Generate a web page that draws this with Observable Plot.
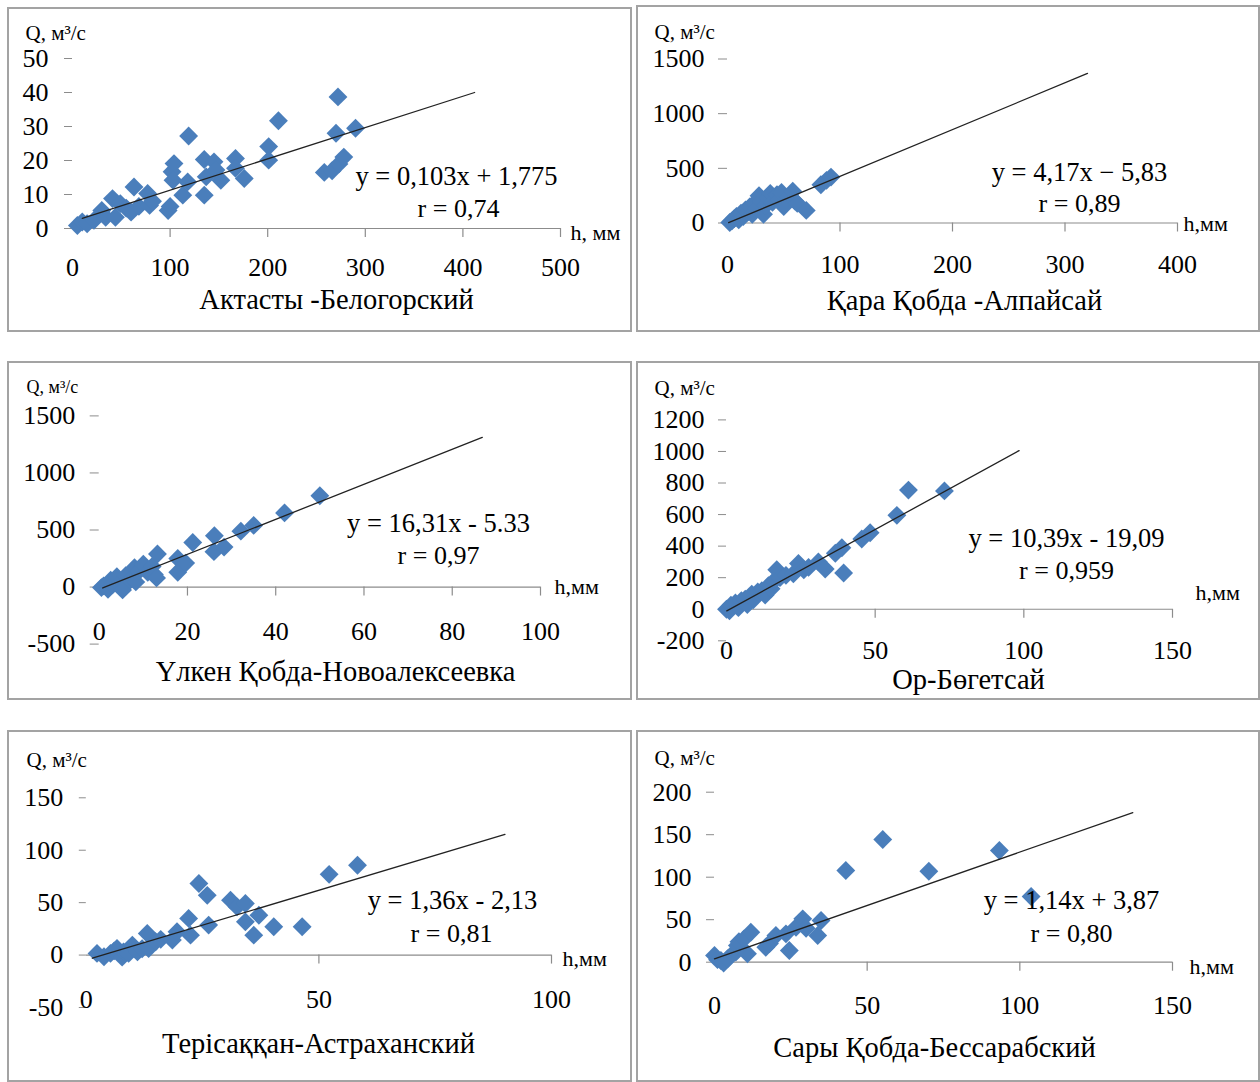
<!DOCTYPE html>
<html><head><meta charset="utf-8">
<script src="https://cdn.jsdelivr.net/npm/d3@7"></script>
<script src="https://cdn.jsdelivr.net/npm/@observablehq/plot@0.6"></script>
<style>
html,body{margin:0;padding:0;background:#fff;}
#page{position:relative;width:1260px;height:1082px;overflow:hidden;background:#fff;}
.frame{position:absolute;box-sizing:border-box;border:2px solid #a3a3a3;}
.plot{position:absolute;}
.plot text{font-family:"Liberation Serif","Times New Roman",serif !important;font-variant-numeric:normal !important;}
</style></head><body><div id="page"></div>
<script>
// ---------- data ----------
const stationNames = ["Актасты -Белогорский","Қара Қобда -Алпайсай","Үлкен Қобда-Новоалексеевка","Ор-Бөгетсай","Терісаққан-Астраханский","Сары Қобда-Бессарабский"];
const equations = ["y = 0,103x + 1,775","y = 4,17x − 5,83","y = 16,31x - 5.33","y = 10,39x - 19,09","y = 1,36x - 2,13","y = 1,14x + 3,87"];
const correlations = ["r = 0,74","r = 0,89","r = 0,97","r = 0,959","r = 0,81","r = 0,80"];
const xLabels = ["h, мм","h,мм","h,мм","h,мм","h,мм","h,мм"];
const yLabel = "Q, м³/с";

const xTicks1 = [0,100,200,300,400,500];
const yTicks1 = [0,10,20,30,40,50];
const xTicks2 = [0,100,200,300,400];
const yTicks2 = [0,500,1000,1500];
const xTicks3 = [0,20,40,60,80,100];
const yTicks3 = [-500,0,500,1000,1500];
const xTicks4 = [0,50,100,150];
const yTicks4 = [-200,0,200,400,600,800,1000,1200];
const xTicks5 = [0,50,100];
const yTicks5 = [-50,0,50,100,150];
const xTicks6 = [0,50,100,150];
const yTicks6 = [0,50,100,150,200];

const points1 = [[5,0.9],[10,1.9],[15,1.4],[22,2.4],[30,5.3],[34,3.3],[41,8.8],[44,3.3],[49,7.3],[55,6],[60,4.8],[63,12.2],[68,6.5],[77,10.3],[79,6.8],[82,8],[98,5.3],[100,6.5],[102,16.7],[104,19.1],[103,14.2],[113,9.8],[118,13.7],[119,27.2],[135,20.3],[135,9.8],[137,15.2],[145,19.6],[147,17.2],[152,14.2],[167,20.6],[167,17.7],[176,14.7],[201,24.1],[201,20.1],[211,31.7],[258,16.5],[266,17],[273,19],[278,21],[270,28],[272,38.7],[290,29.5]];
const points2 = [[2,5],[4,20],[6,40],[8,60],[10,30],[12,90],[14,60],[16,120],[18,100],[20,150],[22,80],[24,180],[26,130],[28,250],[30,200],[32,80],[34,160],[36,230],[38,270],[40,190],[44,260],[46,210],[48,280],[50,150],[54,240],[58,290],[60,200],[62,180],[70,115],[83,350],[88,390],[92,420]];
const points3 = [[0.5,-5],[1,10],[2,-20],[2.6,60],[3,20],[4,90],[4.5,30],[5.3,-25],[6,100],[7,60],[8,170],[8.3,45],[9,140],[10,200],[11,130],[12,180],[12.5,110],[13.2,290],[13,80],[17.8,250],[17.8,130],[19.6,210],[21.2,390],[26.1,450],[26,310],[28.3,350],[32.1,490],[35,540],[42,650],[50,800]];
const points4 = [[0,0],[1,-10],[1.5,25],[3,40],[4,10],[5,55],[6.3,64],[7,30],[8.5,96],[9,60],[10.5,110],[11.9,117],[13,90],[14.1,149],[15,130],[16,180],[16.9,250],[18,200],[20,215],[22.5,225],[24.2,290],[26,250],[27.6,265],[30.9,300],[33.2,255],[36.6,355],[38.8,390],[39.4,230],[45.5,445],[48.3,485],[57.3,595],[61.2,755],[73.3,750]];
const points5 = [[2.3,1.6],[3.8,-1.6],[5.2,1.6],[6,4],[6.6,6.3],[7.7,-2],[8,3],[9.1,1.6],[9.9,9.5],[11,3],[12,6],[13.1,20.6],[13.4,6.3],[14.9,12.7],[16,15],[18.5,14.3],[19.5,22.2],[22,35],[22.4,19],[24.2,68.3],[26,57],[26.3,28.6],[31,52.4],[32.4,46],[34.2,49.2],[34.2,31.7],[36,19],[37.1,38],[40.3,27],[46.4,27],[52.2,77],[58.3,85.7]];
const points6 = [[0,7.9],[1,3],[2.1,2],[3,-1],[4.3,4],[6,10],[7,11.8],[7.5,19.6],[8,24],[9.7,27.5],[10.8,9.9],[11.9,35.3],[16.8,17.6],[18,22],[20.1,31.4],[23.4,33.4],[24.5,13.8],[26.7,41],[28.9,51],[30,40],[33.8,31.4],[34.9,49],[43,107.9],[55.1,144.4],[70.2,107],[93.3,131.4],[103.7,77.3]];

const trend1 = [[10,3],[412,40]];
const trend2 = [[1,3],[320,1368]];
const trend3 = [[0.8,-8],[86.8,1312]];
const trend4 = [[0.1,-10],[98.4,1005]];
const trend5 = [[1.3,-3],[90,115]];
const trend6 = [[0,4],[137,176]];

// ---------- layout (page pixels) ----------
const FONT = "Liberation Serif, Times New Roman, serif";
const BLUE = "#4A7EBB";
const AXIS = "#8c8c8c";
const panels = [
  {box:[7,7,625,325], x:[72,560], y:[228,58], xt:xTicks1, yt:yTicks1, pts:points1, tr:trend1, yLine:false, tick:8, pad:16,
   q:[25,33,21], h:[570,232], eq:[456,176], r:[458,208], title:[336,299], xlabDy:39},
  {box:[636,5,624,327], x:[727,1177], y:[222.5,58.5], xt:xTicks2, yt:yTicks2, pts:points2, tr:trend2, yLine:false, tick:9, pad:14,
   q:[654,32,21], h:[1183,223], eq:[1079,172], r:[1079,203], title:[964,300], xlabDy:42},
  {box:[7,361,625,339], x:[98.7,540], y:[643.6,415.4], xt:xTicks3, yt:yTicks3, pts:points3, tr:trend3, yLine:true, tick:9, pad:15,
   q:[26,387,18], h:[554,586], eq:[438,523], r:[438,555], title:[335,671], xlabDy:45},
  {box:[636,361,624,339], x:[726,1172], y:[640.3,419.4], xt:xTicks4, yt:yTicks4, pts:points4, tr:trend4, yLine:false, tick:8, pad:14,
   q:[654,388,21], h:[1195,592], eq:[1066,538], r:[1066,570], title:[968,679], xlabDy:41},
  {box:[7,730,625,352], x:[85.8,551], y:[1007,797.3], xt:xTicks5, yt:yTicks5, pts:points5, tr:trend5, yLine:true, tick:7, pad:16,
   q:[26,760,21], h:[562,958], eq:[452,900], r:[451,933], title:[318,1043], xlabDy:45},
  {box:[636,730,624,352], x:[714,1172], y:[961.7,791.7], xt:xTicks6, yt:yTicks6, pts:points6, tr:trend6, yLine:true, tick:8, pad:15,
   q:[654,758,21], h:[1189,966], eq:[1071,900], r:[1071,933], title:[934,1047], xlabDy:43}
];

const page = document.getElementById("page");
panels.forEach((P, i) => {
  const [ox, oy, W, H] = P.box;
  const frame = document.createElement("div");
  frame.className = "frame";
  Object.assign(frame.style, {left: ox+"px", top: oy+"px", width: W+"px", height: H+"px"});
  page.appendChild(frame);

  const mL = P.x[0]-ox, mR = W-(P.x[1]-ox), mT = P.y[1]-oy, mB = H-(P.y[0]-oy);
  const at = (px, py) => ({frameAnchor: "top-left", dx: px-ox-mL, dy: py-oy-mT});
  const xd = [P.xt[0], P.xt[P.xt.length-1]];
  const yd = [P.yt[0], P.yt[P.yt.length-1]];

  const svg = Plot.plot({
    width: W, height: H,
    marginLeft: mL, marginRight: mR, marginTop: mT, marginBottom: mB,
    x: {domain: xd, axis: null}, y: {domain: yd},
    style: {fontFamily: FONT, fontSize: "26px", color: "#000", background: "transparent", overflow: "visible"},
    marks: [
      Plot.axisY({ticks: P.yt, tickSize: P.tick, tickPadding: P.pad, stroke: AXIS, fill: "#000", label: null, line: P.yLine, tickFormat: d => String(d)}),
      Plot.ruleY([0], {stroke: AXIS, strokeWidth: 1.2}),
      Plot.ruleX(P.xt.filter(d => d !== 0), {x: d => d, y1: 0, y2: 0, insetBottom: -9, stroke: AXIS, strokeWidth: 1.2}),
      Plot.text(P.xt, {x: d => d, y: 0, dy: P.xlabDy, text: d => String(d), fill: "#000"}),
      Plot.dot(P.pts, {x: d => d[0], y: d => d[1], symbol: "diamond2", r: 8.5, fill: BLUE, stroke: "none"}),
      Plot.line(P.tr, {x: d => d[0], y: d => d[1], stroke: "#222", strokeWidth: 1.3}),
      Plot.text([yLabel], {...at(P.q[0], P.q[1]), text: d => d, textAnchor: "start", lineAnchor: "middle", fontSize: P.q[2]}),
      Plot.text([xLabels[i]], {...at(P.h[0], P.h[1]), text: d => d, textAnchor: "start", lineAnchor: "middle", fontSize: 22}),
      Plot.text([equations[i]], {...at(P.eq[0], P.eq[1]), text: d => d, textAnchor: "middle", lineAnchor: "middle", fontSize: 26.5}),
      Plot.text([correlations[i]], {...at(P.r[0], P.r[1]), text: d => d, textAnchor: "middle", lineAnchor: "middle", fontSize: 26}),
      Plot.text([stationNames[i]], {...at(P.title[0], P.title[1]), text: d => d, textAnchor: "middle", lineAnchor: "middle", fontSize: 28.5})
    ]
  });
  svg.classList.add("plot");
  Object.assign(svg.style, {left: ox+"px", top: oy+"px"});
  page.appendChild(svg);
});
</script></body></html>
